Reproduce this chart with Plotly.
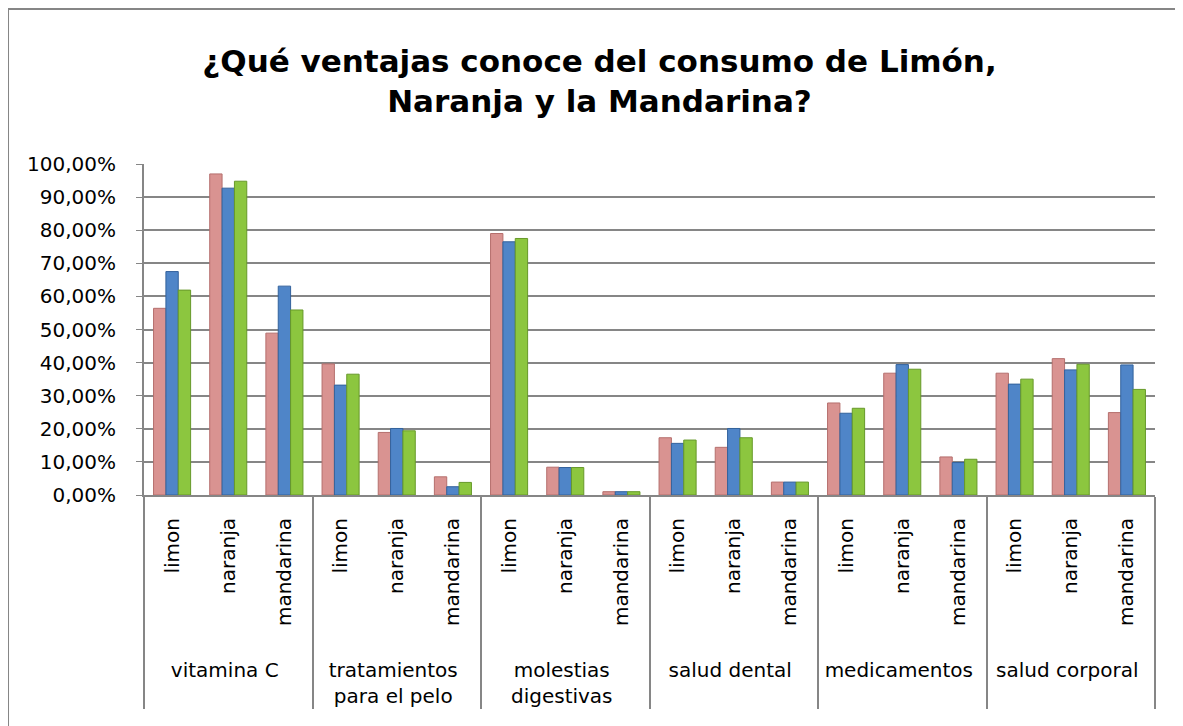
import plotly.graph_objects as go

# categories
groups = ["vitamina C", "tratamientos<br>para el pelo", "molestias<br>digestivas",
          "salud dental", "medicamentos", "salud corporal"]
fruits = ["limon", "naranja", "mandarina"]

# series values (fractions)
serie1 = [0.564, 0.970, 0.489, 0.396, 0.189, 0.055, 0.790, 0.084, 0.010,
          0.173, 0.144, 0.039, 0.278, 0.368, 0.115, 0.368, 0.412, 0.249]
serie2 = [0.675, 0.927, 0.631, 0.332, 0.201, 0.025, 0.765, 0.083, 0.010,
          0.156, 0.201, 0.039, 0.247, 0.394, 0.098, 0.335, 0.378, 0.393]
serie3 = [0.619, 0.948, 0.559, 0.365, 0.194, 0.038, 0.775, 0.083, 0.010,
          0.166, 0.173, 0.039, 0.262, 0.380, 0.108, 0.350, 0.395, 0.319]

y_ticks = [i / 10 for i in range(11)]

# blank first line pushes the group labels further below the rotated fruit labels
x_outer = ["\u00a0<br>" + g for g in groups for _ in fruits]
x_inner = fruits * len(groups)

FONT = "DejaVu Sans, sans-serif"

fig = go.Figure()
for name, vals, color, edge in [("Serie 1", serie1, "#D99391", "#B56F6D"),
                                ("Serie 2", serie2, "#4F85C8", "#33629C"),
                                ("Serie 3", serie3, "#8CC63F", "#67992A")]:
    fig.add_trace(go.Bar(x=[x_outer, x_inner], y=vals, name=name,
                         marker=dict(color=color, line=dict(color=edge, width=1))))

# the page body adds an 8px offset, so margins are 8px smaller than the target
fig.update_layout(
    width=1183, height=726,
    barmode="group", bargap=0.34, bargroupgap=0,
    separators=",.",
    showlegend=False,
    plot_bgcolor="white", paper_bgcolor="white",
    font=dict(family=FONT, size=20, color="black"),
    margin=dict(l=136, r=36, t=156, b=239),
    title=dict(text="¿Qué ventajas conoce del consumo de Limón,<br>Naranja y la Mandarina?",
               x=0.5, xanchor="center", y=0.912, yanchor="top",
               font=dict(family=FONT, size=31, color="black", weight="bold")),
    xaxis=dict(type="multicategory", tickangle=-90, showline=True, linecolor="#868686",
               linewidth=2, showdividers=True, dividercolor="#868686", dividerwidth=2,
               showgrid=False, ticks="", ticklabelstandoff=13, tickfont=dict(size=20)),
    yaxis=dict(range=[0, 1], tickvals=y_ticks, tickformat=".2%", showgrid=True,
               gridcolor="#868686", gridwidth=1.5, showline=True, linecolor="#868686",
               linewidth=2, zeroline=False, ticks="outside", ticklen=6,
               tickcolor="#868686", ticklabelstandoff=16, tickfont=dict(size=20)),
)

# outer chart border
fig.add_shape(type="rect", xref="paper", yref="paper", x0=-0.1345, x1=1.025,
              y0=-0.75, y1=1.468, line=dict(color="#868686", width=2), layer="below")

fig.write_html("out.html")
